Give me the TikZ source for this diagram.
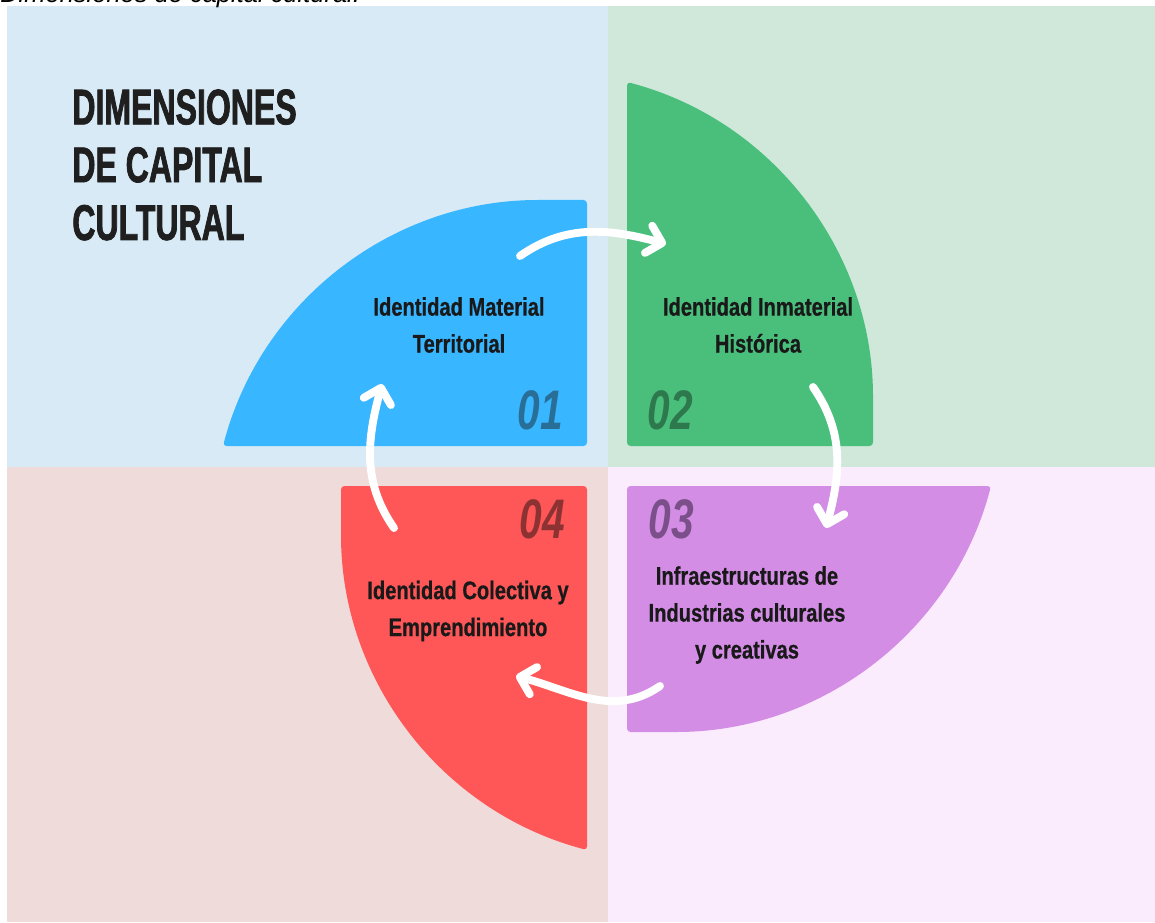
\documentclass[tikz,border=0pt]{standalone}
\usepackage{fontspec}
\setmainfont{Liberation Sans}
\newfontfamily\titlefont[FakeStretch=0.64,FakeBold=1.5]{Liberation Sans}
\newfontfamily\labelfont[FakeStretch=0.79,FakeBold=0.6]{Liberation Sans}
\newfontfamily\numfont[FakeStretch=0.73]{Liberation Sans}
\usetikzlibrary{arrows.meta}

\definecolor{bgblue}{RGB}{216,234,245}
\definecolor{bggreen}{RGB}{207,232,218}
\definecolor{bgred}{RGB}{239,219,218}
\definecolor{bgpurple}{RGB}{251,236,253}
\definecolor{petalblue}{RGB}{56,182,255}
\definecolor{petalgreen}{RGB}{74,191,124}
\definecolor{petalpurple}{RGB}{211,141,229}
\definecolor{petalred}{RGB}{255,87,87}
\definecolor{numblue}{RGB}{41,110,150}
\definecolor{numgreen}{RGB}{46,120,77}
\definecolor{numpurple}{RGB}{123,79,137}
\definecolor{numred}{RGB}{140,50,50}

\tikzstyle{petal text}=[font=\labelfont\bfseries\fontsize{14.5}{21}\selectfont, align=center, text=black!90, inner sep=0pt]
\tikzstyle{number}=[font=\numfont\bfseries\itshape\fontsize{31.7}{32}\selectfont, inner sep=0pt]
\tikzstyle{cycle arrow}=[draw=white, line width=4.5pt, line cap=round, -{Straight Barb[length=8pt,width=16pt,round]}]

\begin{document}
\begin{tikzpicture}[x=0.02cm,y=-0.02cm]
	\useasboundingbox (0,0) rectangle (1155,922);
	\fill[white] (0,0) rectangle (1155,922);
	% quadrants
	\fill[bgblue] (7,6) rectangle (608,467);
	\fill[bggreen] (608,6) rectangle (1155,467);
	\fill[bgred] (7,467) rectangle (608,922);
	\fill[bgpurple] (608,467) rectangle (1155,922);
	\node[anchor=base west, inner sep=0pt, font=\itshape\fontsize{14.5}{16}\selectfont] (caption) at (0,3) {Dimensiones de capital cultural.};
	% the four petals
	\foreach \ang/\col in {0/petalblue, -90/petalgreen, 180/petalpurple, 90/petalred}
		\fill[\col, rounded corners=2pt, shift={(607,466)}, rotate=\ang]
			(-384,-20) .. controls (-346,-165) and (-215,-266) .. (-66,-266) -- (-20,-266) -- (-20,-20) -- cycle;
	\node[anchor=north west, align=left, inner sep=0pt, text=black!88,
		font=\titlefont\bfseries\fontsize{28.5}{32.9}\selectfont] (title) at (72,89) {DIMENSIONES\\DE CAPITAL\\CULTURAL};
	\node[petal text] (t1) at (459,325) {Identidad Material\\Territorial};
	\node[petal text] (t2) at (758,325) {Identidad Inmaterial\\Histórica};
	\node[petal text] (t3) at (747,615) {Infraestructuras de\\Industrias culturales\\y creativas};
	\node[petal text] (t4) at (468,611) {Identidad Colectiva y\\Emprendimiento};
	\node[number, text=numblue] (n1) at (540,410) {01};
	\node[number, text=numgreen] (n2) at (670,410) {02};
	\node[number, text=numpurple] (n3) at (671,519) {03};
	\node[number, text=numred] (n4) at (542,519) {04};
	% arrows round the cycle
	\coordinate (a1) at (520,256); \coordinate (b1) at (666,244);
	\coordinate (a2) at (813,387); \coordinate (b2) at (826,528);
	\coordinate (a3) at (660,686); \coordinate (b3) at (516,676);
	\coordinate (a4) at (394,528); \coordinate (b4) at (382,384);
	\draw[cycle arrow] (a1) to[out=35,in=165] (b1);
	\draw[cycle arrow] (a2) to[out=-55,in=75] (b2);
	\draw[cycle arrow] (a3) to[out=215,in=-15] (b3);
	\draw[cycle arrow] (a4) to[out=125,in=255] (b4);
\end{tikzpicture}
\end{document}
